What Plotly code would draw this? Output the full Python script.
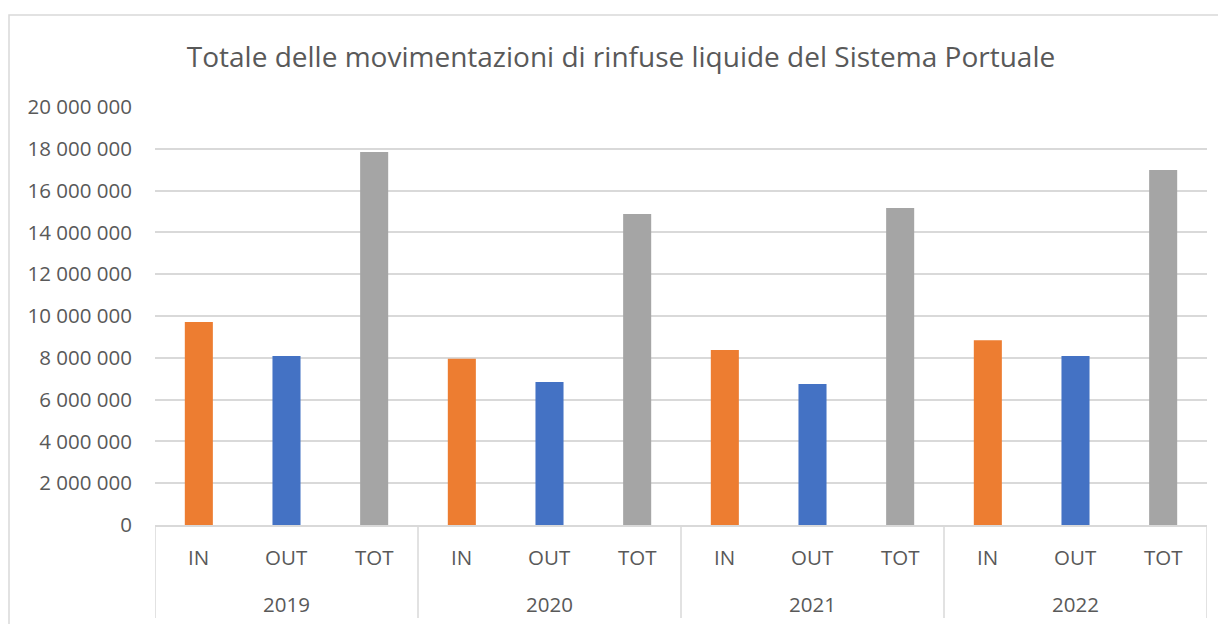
import plotly.graph_objects as go

years = ["2019", "2020", "2021", "2022"]
categories = ["IN", "OUT", "TOT"]
in_values = [9710000, 7960000, 8370000, 8840000]
out_values = [8090000, 6840000, 6750000, 8090000]
tot_values = [17850000, 14880000, 15170000, 16990000]
colors = {"IN": "#ED7D31", "OUT": "#4472C4", "TOT": "#A5A5A5"}
y_ticks = [0, 2000000, 4000000, 6000000, 8000000, 10000000,
           12000000, 14000000, 16000000, 18000000, 20000000]

series = {"IN": in_values, "OUT": out_values, "TOT": tot_values}
x_keys, x_text, y_val, bar_colors = [], [], [], []
for i, yr in enumerate(years):
    for c in categories:
        x_keys.append(f"{yr} {c}")
        x_text.append(c)
        y_val.append(series[c][i])
        bar_colors.append(colors[c])

FONT = "Open Sans"
TXT = "#595959"
LINE = "#D9D9D9"

# plot area geometry (px inside the figure)
L, R, T, B = 147, 27, 99, 107
W, H = 1226, 624
plot_h = H - T - B
plot_w = W - L - R

fig = go.Figure(go.Bar(x=x_keys, y=y_val, marker_color=bar_colors,
                       marker_line_width=0, showlegend=False))

fig.update_layout(
    width=W, height=H,
    margin=dict(l=L, r=R, t=T, b=B),
    paper_bgcolor="white", plot_bgcolor="white",
    separators=". ",
    bargap=0.68,
    font=dict(family=FONT, size=20.5, color=TXT),
    title=dict(text="Totale delle movimentazioni di rinfuse liquide del Sistema Portuale",
               x=0.5, xanchor="center", y=1 - 49 / H, yanchor="middle",
               font=dict(family=FONT, size=28, color=TXT)),
)
fig.update_yaxes(range=[0, 20000000], tickvals=y_ticks, tickformat=",d",
                 showgrid=True, gridcolor=LINE, gridwidth=1.5,
                 zeroline=False, showline=False, ticks="", ticklen=0,
                 ticklabelstandoff=22,
                 tickfont=dict(family=FONT, size=20.5, color=TXT))
fig.update_xaxes(type="category", showline=True, linecolor=LINE, linewidth=1.5,
                 showgrid=False, ticks="", showticklabels=False,
                 range=[-0.5, len(x_keys) - 0.5])

# first-level labels
for k, t in enumerate(x_text):
    fig.add_annotation(x=k, y=-32 / plot_h, xref="x", yref="paper", text=t,
                       showarrow=False, xanchor="center", yanchor="middle",
                       font=dict(family=FONT, size=20.5, color=TXT))
# second-level labels and dividers
n = len(categories)
for i, yr in enumerate(years):
    fig.add_annotation(x=i * n + (n - 1) / 2, y=-79 / plot_h, xref="x", yref="paper",
                       text=yr, showarrow=False, xanchor="center", yanchor="middle",
                       font=dict(family=FONT, size=20.5, color=TXT))
for i in range(len(years) + 1):
    xd = i * n - 0.5
    fig.add_shape(type="line", xref="x", yref="paper", x0=xd, x1=xd,
                  y0=0, y1=-93 / plot_h, line=dict(color=LINE, width=1.5))

# chart border
fig.add_shape(type="rect", xref="paper", yref="paper",
              x0=(1 - L) / plot_w, x1=(W + 20 - L) / plot_w,
              y0=-(B + 20) / plot_h, y1=(plot_h + T - 7) / plot_h,
              line=dict(color=LINE, width=1.5), fillcolor="rgba(0,0,0,0)", layer="below")

fig.write_html("out.html")
